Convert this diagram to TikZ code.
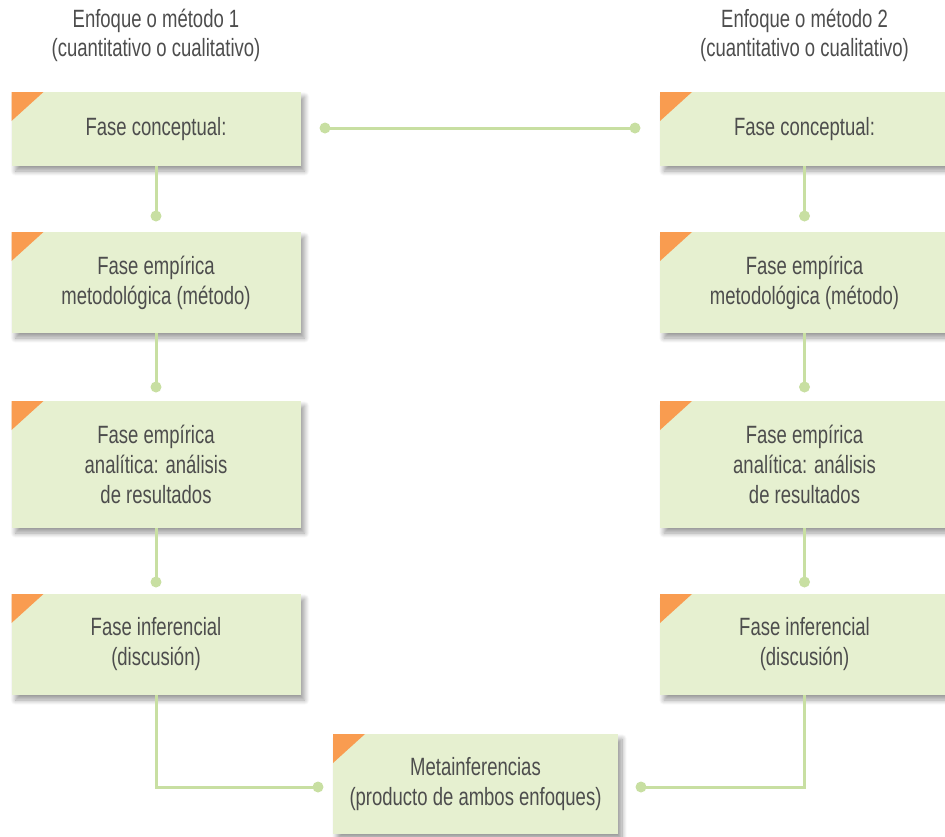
\documentclass[tikz,border=0pt]{standalone}
\usepackage{fontspec}
\setmainfont{Liberation Sans}[FakeStretch=0.74]
\usetikzlibrary{shadows.blur}
\definecolor{fgText}{HTML}{4D4D4D}
\definecolor{phaseFill}{HTML}{E6F0D0}
\definecolor{linkLine}{HTML}{C8DFA2}
\definecolor{cornerFill}{HTML}{F99C50}

\begin{document}
\begin{tikzpicture}[
    x=1pt, y=-1pt,
    font=\fontsize{25}{30}\selectfont,
    heading/.style={text=fgText, align=center, font=\fontsize{25}{29}\selectfont},
    phase/.style={rectangle, fill=phaseFill, text=fgText, align=center,
                  minimum width=289pt, inner sep=0pt,
                  blur shadow={shadow xshift=4pt, shadow yshift=-5pt,
                               shadow blur steps=10, shadow blur radius=5pt,
                               shadow opacity=40},
                  path picture={\fill[cornerFill] (path picture bounding box.north west)
                                -- ++(32pt,0pt) -- ++(-32pt,-29pt) -- cycle;}},
    dot/.style={circle, fill=linkLine, inner sep=0pt, minimum size=11pt},
    link/.style={draw=linkLine, line width=3pt},
  ]
  \useasboundingbox (0,0) rectangle (945,836);

  % Column x-positions
  \def\cL{156}\def\cR{804.5}\def\cM{475.5}

  % METHOD 1
  \node[heading] (headL) at (\cL,35) {Enfoque o método 1\\(cuantitativo o cualitativo)};
  \node[phase, minimum height=74pt]  (l1) at (\cL,129)   {Fase conceptual:};
  \node[phase, minimum height=101pt] (l2) at (\cL,282.5) {Fase empírica\\metodológica (método)};
  \node[phase, minimum height=127pt] (l3) at (\cL,464.5) {Fase empírica\\analítica: análisis\\de resultados};
  \node[phase, minimum height=101pt] (l4) at (\cL,644.5) {Fase inferencial\\(discusión)};

  % METHOD 2
  \node[heading] (headR) at (\cR,35) {Enfoque o método 2\\(cuantitativo o cualitativo)};
  \node[phase, minimum height=74pt]  (r1) at (\cR,129)   {Fase conceptual:};
  \node[phase, minimum height=101pt] (r2) at (\cR,282.5) {Fase empírica\\metodológica (método)};
  \node[phase, minimum height=127pt] (r3) at (\cR,464.5) {Fase empírica\\analítica: análisis\\de resultados};
  \node[phase, minimum height=101pt] (r4) at (\cR,644.5) {Fase inferencial\\(discusión)};

  % META-INFERENCES
  \node[phase, minimum width=285pt, minimum height=100pt] (meta) at (\cM,784)
    {Metainferencias\\(producto de ambos enfoques)};

  % Dots
  \node[dot] (dl1) at (\cL,216) {};
  \node[dot] (dl2) at (\cL,387) {};
  \node[dot] (dl3) at (\cL,582) {};
  \node[dot] (dr1) at (\cR,216) {};
  \node[dot] (dr2) at (\cR,387) {};
  \node[dot] (dr3) at (\cR,582) {};
  \node[dot] (dtopL) at (325,128) {};
  \node[dot] (dtopR) at (635,128) {};
  \node[dot] (dmetaL) at (318,787) {};
  \node[dot] (dmetaR) at (641,787) {};

  % Connectors
  \draw[link] (l1.south) -- (dl1.center);
  \draw[link] (l2.south) -- (dl2.center);
  \draw[link] (l3.south) -- (dl3.center);
  \draw[link] (r1.south) -- (dr1.center);
  \draw[link] (r2.south) -- (dr2.center);
  \draw[link] (r3.south) -- (dr3.center);
  \draw[link] (dtopL.center) -- (dtopR.center);
  \draw[link] (l4.south) |- (dmetaL.center);
  \draw[link] (r4.south) |- (dmetaR.center);

\end{tikzpicture}
\end{document}
